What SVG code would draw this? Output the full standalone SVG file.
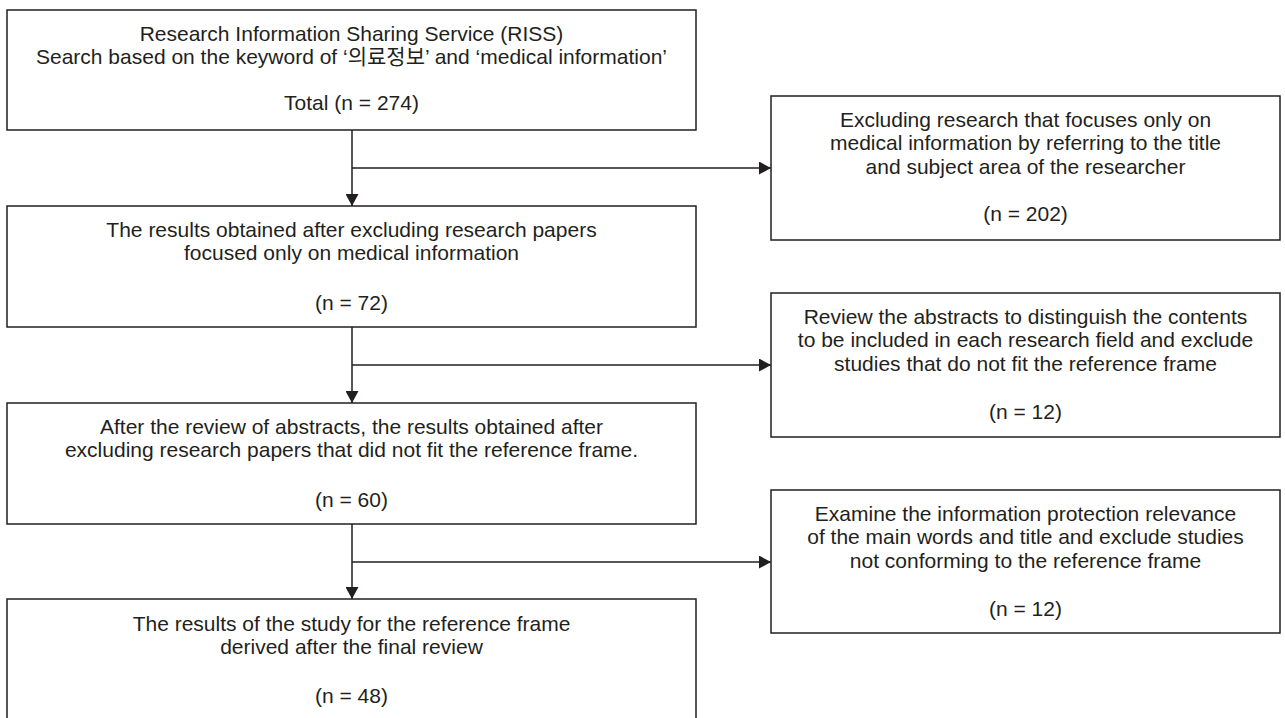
<svg xmlns="http://www.w3.org/2000/svg" width="1285" height="718" viewBox="0 0 1285 718">
<style>
.box{fill:#fff;stroke:#231f20;stroke-width:1.5}
.t{font-family:"Liberation Sans","Noto Sans CJK KR",Arial,sans-serif;font-size:21px;fill:#231f20;text-anchor:middle}
.c{fill:none;stroke:#231f20;stroke-width:1.5}
</style>
<defs>
<marker id="ah" markerUnits="userSpaceOnUse" markerWidth="13" markerHeight="13" refX="12" refY="6.5" orient="auto">
<path d="M0,0 L12,6.5 L0,13 Z" fill="#231f20"/>
</marker>
</defs>
<rect width="1285" height="718" fill="#fff"/>
<g id="connectors">
<line class="c" x1="352" y1="130" x2="352" y2="206" marker-end="url(#ah)"/>
<line class="c" x1="352" y1="168" x2="771" y2="168" marker-end="url(#ah)"/>
<line class="c" x1="352" y1="327" x2="352" y2="403" marker-end="url(#ah)"/>
<line class="c" x1="352" y1="365" x2="771" y2="365" marker-end="url(#ah)"/>
<line class="c" x1="352" y1="524" x2="352" y2="599" marker-end="url(#ah)"/>
<line class="c" x1="352" y1="562" x2="771" y2="562" marker-end="url(#ah)"/>
</g>
<g id="n1">
<rect class="box" x="7" y="10" width="689" height="120"/>
<text class="t" x="351.5" y="41">Research Information Sharing Service (RISS)</text>
<text class="t" x="351.5" y="64">Search based on the keyword of ‘의료정보’ and ‘medical information’</text>
<text class="t" x="351.5" y="110">Total (n = 274)</text>
</g>
<g id="n2">
<rect class="box" x="7" y="206" width="689" height="121"/>
<text class="t" x="351.5" y="237">The results obtained after excluding research papers</text>
<text class="t" x="351.5" y="260">focused only on medical information</text>
<text class="t" x="351.5" y="310">(n = 72)</text>
</g>
<g id="n3">
<rect class="box" x="7" y="403" width="689" height="121"/>
<text class="t" x="351.5" y="434">After the review of abstracts, the results obtained after</text>
<text class="t" x="351.5" y="457">excluding research papers that did not fit the reference frame.</text>
<text class="t" x="351.5" y="507">(n = 60)</text>
</g>
<g id="n4">
<rect class="box" x="7" y="599" width="689" height="140"/>
<text class="t" x="351.5" y="631">The results of the study for the reference frame</text>
<text class="t" x="351.5" y="654">derived after the final review</text>
<text class="t" x="351.5" y="703">(n = 48)</text>
</g>
<g id="r1">
<rect class="box" x="771" y="96" width="509" height="144"/>
<text class="t" x="1025.5" y="127">Excluding research that focuses only on</text>
<text class="t" x="1025.5" y="150">medical information by referring to the title</text>
<text class="t" x="1025.5" y="173.5">and subject area of the researcher</text>
<text class="t" x="1025.5" y="221">(n = 202)</text>
</g>
<g id="r2">
<rect class="box" x="771" y="293" width="509" height="144"/>
<text class="t" x="1025.5" y="324">Review the abstracts to distinguish the contents</text>
<text class="t" x="1025.5" y="347">to be included in each research field and exclude</text>
<text class="t" x="1025.5" y="370.5">studies that do not fit the reference frame</text>
<text class="t" x="1025.5" y="419">(n = 12)</text>
</g>
<g id="r3">
<rect class="box" x="771" y="490" width="509" height="143"/>
<text class="t" x="1025.5" y="521">Examine the information protection relevance</text>
<text class="t" x="1025.5" y="544">of the main words and title and exclude studies</text>
<text class="t" x="1025.5" y="567.5">not conforming to the reference frame</text>
<text class="t" x="1025.5" y="616">(n = 12)</text>
</g>
</svg>
